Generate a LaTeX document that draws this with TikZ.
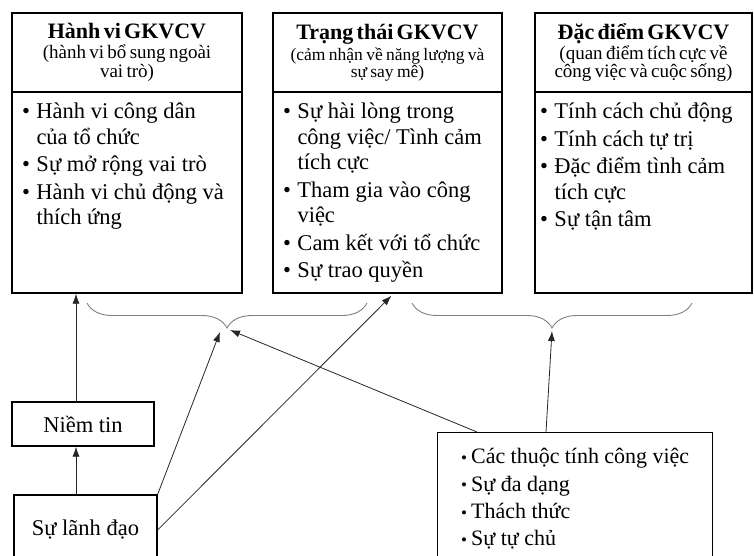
\documentclass[tikz,border=0pt]{standalone}
\usepackage{fontspec}
\setmainfont{Liberation Serif}
\usepackage{tikz}
\usetikzlibrary{shapes,arrows,arrows.meta,decorations.pathreplacing}
\newcommand{\bodyfont}{\fontsize{22.5}{25.5}\selectfont}
\newcommand{\titlefont}{\bfseries\fontsize{22}{20}\selectfont}
\newcommand{\gkit}{\par\hangindent=14.5pt\hangafter=1\noindent\makebox[14.5pt][l]{\textbullet}}
\newcommand{\gkdot}{\noindent\makebox[10pt][l]{\raisebox{0.5pt}{\fontsize{17}{17}\selectfont\textbullet}}}
\newcommand{\gklist}[3]{\parbox[t][#1][t]{#2}{\bodyfont\raggedright\parskip=2pt #3}}
\tikzstyle{headGK} = [rectangle, draw, line width=1.3pt, minimum height=79pt, inner sep=0pt, align=center]
\tikzstyle{bodyGK} = [rectangle, draw, line width=1.3pt, minimum height=201pt, inner xsep=0pt, inner ysep=11pt]
\tikzstyle{blockGK} = [rectangle, draw, line width=1.3pt, inner sep=0pt, font=\bodyfont]
\tikzstyle{braceGK} = [draw=gray, line width=0.9pt, decorate, decoration={brace, amplitude=25pt}]
\tikzstyle{line} = [draw, black!85, line width=0.8pt, -{Latex[length=10pt,width=7pt]}]

\begin{document}
\begin{tikzpicture}[x=1pt, y=-1pt, node distance=140pt, auto]
    \useasboundingbox (0,0) rectangle (754,556);

    % nodes
    \node [headGK, minimum width=230pt, text width=222pt] (hanhvi_hd) at (127,52.5)
      {{\titlefont Hành vi GKVCV}\\ \fontsize{19}{20}\selectfont (hành vi bổ sung ngoài\\ vai trò)};
    \node [headGK, minimum width=229pt, text width=222pt] (trangthai_hd) at (387.5,52.5)
      {{\titlefont Trạng thái GKVCV}\\[3pt] \fontsize{17.5}{18}\selectfont (cảm nhận về năng lượng và\\ sự say mê)};
    \node [headGK, minimum width=217pt, text width=210pt] (dacdiem_hd) at (643.5,52.5)
      {{\titlefont Đặc điểm GKVCV}\\ \fontsize{19}{20}\selectfont (quan điểm tích cực về\\ công việc và cuộc sống)};

    \node [bodyGK, minimum width=230pt, below of=hanhvi_hd] (hanhvi_bd)
      {\gklist{179pt}{210pt}{\gkit Hành vi công dân\newline của tổ chức
        \gkit Sự mở rộng vai trò
        \gkit Hành vi chủ động và\newline thích ứng}};
    \node [bodyGK, minimum width=229pt, below of=trangthai_hd] (trangthai_bd)
      {\gklist{179pt}{209pt}{\gkit Sự hài lòng trong\newline công việc/ Tình cảm\newline tích cực
        \gkit Tham gia vào công\newline việc
        \gkit Cam kết với tổ chức
        \gkit Sự trao quyền}};
    \node [bodyGK, minimum width=217pt, below of=dacdiem_hd] (dacdiem_bd)
      {\gklist{179pt}{207pt}{\gkit Tính cách chủ động
        \gkit Tính cách tự trị
        \gkit Đặc điểm tình cảm\newline tích cực
        \gkit Sự tận tâm}};

    \node [blockGK, minimum width=142pt, minimum height=44pt] (niemtin) at (83,424) {Niềm tin};
    \node [blockGK, minimum width=143pt, minimum height=70pt, below of=niemtin, node distance=106pt, xshift=2.5pt] (lanhdao) {Sự lãnh đạo};
    \node [blockGK, minimum width=275pt, anchor=north west, inner ysep=16pt] (dactinh_cv) at (437,432)
      {\parbox[t][130pt][t]{228pt}{\fontsize{22}{27.3}\selectfont
        \gkdot Các thuộc tính công việc\par
        \gkdot Sự đa dạng\par
        \gkdot Thách thức\par
        \gkdot Sự tự chủ}};

    % braces
    \draw [braceGK] (367,303) -- (87,303);
    \draw [braceGK] (692,303) -- (412,303);
    \coordinate (tipHV) at (228,328);
    \coordinate (tipDD) at (552,328);

    % edges
    \path [line] ([xshift=-9.5pt]lanhdao.north) -- ([xshift=-7pt]niemtin.south);
    \path [line] ([xshift=-7pt]niemtin.north) -- ([xshift=-7pt]niemtin.north |- hanhvi_bd.south);
    \path [line] (lanhdao.north east) -- ([xshift=-8pt,yshift=-4pt]tipHV);
    \path [line] (lanhdao.east) -- ([xshift=4pt,yshift=-2pt]trangthai_bd.south);
    \path [line] ([xshift=40pt]dactinh_cv.north west) -- ([xshift=2pt,yshift=-2pt]tipHV);
    \path [line] ([xshift=109pt]dactinh_cv.north west) -- ([yshift=-3pt]tipDD);

\end{tikzpicture}
\end{document}
